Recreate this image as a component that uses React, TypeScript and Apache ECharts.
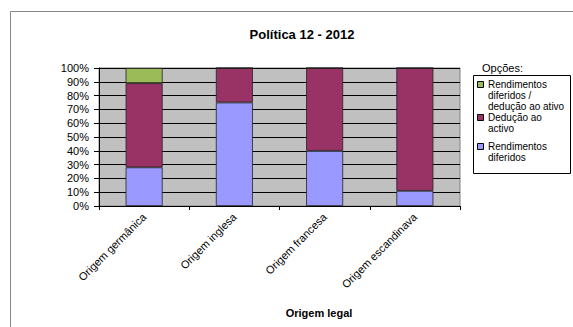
import React, { useEffect, useRef } from "react";
import * as echarts from "echarts";

// Categories and stacked shares (%)
const categories = ["Origem germânica", "Origem inglesa", "Origem francesa", "Origem escandinava"];
const rendimentosDiferidos = [28, 75, 40, 11];
const deducaoAoActivo = [61, 25, 60, 89];
const rendimentosDeducao = [11, 0, 0, 0];

const seriesNames = [
  "Rendimentos diferidos",
  "Dedução ao activo",
  "Rendimentos diferidos / dedução ao ativo",
];
// Wrapped legend labels (legend lists the top stack first)
const legendLines: string[][] = [
  ["Rendimentos", "diferidos /", "dedução ao ativo"],
  ["Dedução ao", "activo"],
  ["Rendimentos", "diferidos"],
];
const colors = ["#9999FF", "#993366", "#9BBB59"];

const FONT = "'Liberation Sans', Arial, sans-serif";

export default function App() {
  const ref = useRef<HTMLDivElement>(null);

  useEffect(() => {
    document.body.style.margin = "0";
    const chart = echarts.init(ref.current!, null, { renderer: "svg" });

    const values = [rendimentosDiferidos, deducaoAoActivo, rendimentosDeducao];
    const series = values.map((data, i) => ({
      name: seriesNames[i],
      type: "bar" as const,
      stack: "total",
      barWidth: 37,
      data,
      itemStyle: { color: colors[i], borderColor: "#222", borderWidth: 0.8 },
    }));

    // Legend box: entries in reverse stack order
    const legendTops = [79, 112, 141];
    const legendOrder = [2, 1, 0];
    const legendChildren: any[] = [
      {
        type: "rect",
        shape: { x: 473.5, y: 75.5, width: 97, height: 98 },
        style: { fill: "#fff", stroke: "#000", lineWidth: 1 },
      },
    ];
    legendOrder.forEach((si, k) => {
      const top = legendTops[k];
      legendChildren.push({
        type: "rect",
        shape: { x: 477.5, y: top + 2.5, width: 6, height: 6 },
        style: { fill: colors[si], stroke: "#000", lineWidth: 1 },
      });
      legendChildren.push({
        type: "text",
        x: 488,
        y: top,
        style: {
          text: legendLines[k].join("\n"),
          font: `10px ${FONT}`,
          fill: "#000",
          lineHeight: 11,
          verticalAlign: "top",
        },
      });
    });

    chart.setOption({
      animation: false,
      backgroundColor: "#fff",
      textStyle: { fontFamily: FONT, color: "#000" },
      title: [
        {
          text: "Política 12 - 2012",
          left: 297,
          top: 23,
          textAlign: "center",
          textStyle: { fontSize: 13, fontWeight: "bold", color: "#000", fontFamily: FONT },
        },
        {
          text: "Origem legal",
          left: 314,
          top: 302,
          textAlign: "center",
          textStyle: { fontSize: 11, fontWeight: "bold", color: "#000", fontFamily: FONT },
        },
        {
          text: "Opções:",
          left: 477,
          top: 57,
          textStyle: { fontSize: 11, fontWeight: "normal", color: "#000", fontFamily: FONT },
        },
      ],
      grid: {
        left: 99,
        right: 113,
        top: 68,
        bottom: 121,
        show: true,
        backgroundColor: "#C0C0C0",
        borderColor: "#808080",
        borderWidth: 1,
      },
      xAxis: {
        type: "category",
        data: categories,
        boundaryGap: true,
        axisLine: { lineStyle: { color: "#000", width: 1 } },
        axisTick: { show: true, length: 4, alignWithLabel: false, lineStyle: { color: "#000" } },
        axisLabel: {
          rotate: 45,
          interval: 0,
          margin: 9,
          fontSize: 11,
          color: "#000",
          fontFamily: FONT,
        },
      },
      yAxis: {
        type: "value",
        min: 0,
        max: 100,
        interval: 10,
        axisLine: { show: true, lineStyle: { color: "#000", width: 1 } },
        axisTick: { show: true, length: 5, lineStyle: { color: "#000" } },
        axisLabel: {
          formatter: "{value}%",
          margin: 10,
          fontSize: 11,
          color: "#000",
          fontFamily: FONT,
        },
        splitLine: { show: true, lineStyle: { color: "#000", width: 1 } },
      },
      series,
      graphic: [
        {
          type: "rect",
          shape: { x: 10.5, y: 11.5, width: 700, height: 500 },
          style: { fill: "none", stroke: "#888", lineWidth: 1 },
          silent: true,
          z: -1,
        },
        { type: "group", children: legendChildren },
      ],
    });

    return () => chart.dispose();
  }, []);

  return <div ref={ref} style={{ width: 573, height: 327 }} />;
}
